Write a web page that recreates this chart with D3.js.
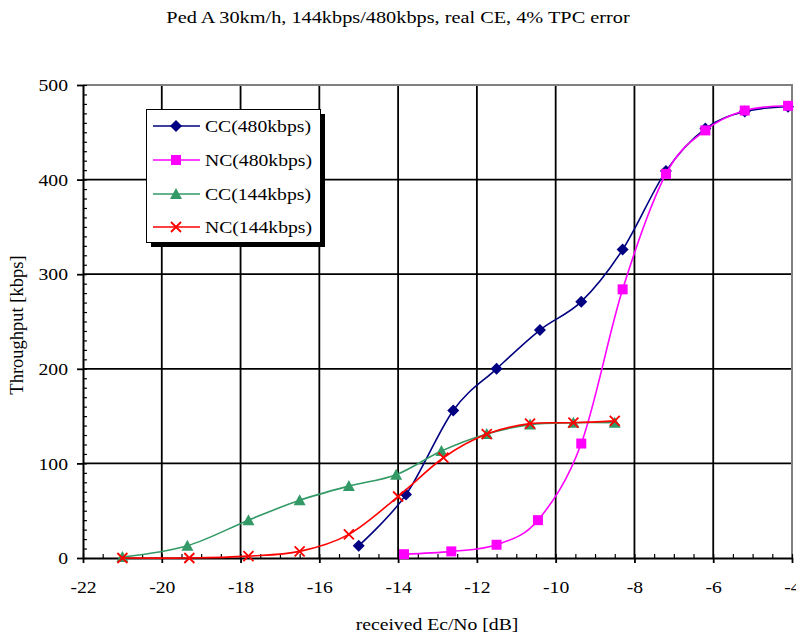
<!DOCTYPE html>
<html>
<head>
<meta charset="utf-8">
<script src="https://cdn.jsdelivr.net/npm/d3@7"></script>
<style>
  body { margin: 0; background: #fff; }
  text { font-family: "Liberation Serif", "DejaVu Serif", serif; fill: #000; }
</style>
</head>
<body>
<div id="vis"></div>
<script>
// chart data
var title = "Ped A 30km/h, 144kbps/480kbps, real CE, 4% TPC error";
var xLabel = "received Ec/No [dB]";
var yLabel = "Throughput [kbps]";

var seriesNames = ["CC(480kbps)", "NC(480kbps)", "CC(144kbps)", "NC(144kbps)"];

var xCC480 = [-15, -13.8, -12.6, -11.5, -10.4, -9.35, -8.3, -7.2, -6.2, -5.2, -4.1];
var yCC480 = [13, 67, 156, 200, 241, 271, 326, 409, 454, 472, 477];

var xNC480 = [-13.85, -12.65, -11.5, -10.45, -9.35, -8.3, -7.2, -6.2, -5.2, -4.1];
var yNC480 = [4, 7, 14, 40, 121, 284, 406, 452, 473, 478];

var xCC144 = [-21, -19.35, -17.8, -16.5, -15.25, -14.05, -12.9, -11.75, -10.65, -9.55, -8.5];
var yCC144 = [1, 13, 40, 61, 76, 88, 113, 131, 141, 143, 143];

var xNC144 = [-21, -19.3, -17.8, -16.5, -15.25, -14.0, -12.85, -11.75, -10.65, -9.55, -8.5];
var yNC144 = [0, 0, 2, 7, 25, 65, 106, 131, 142, 143, 145];

var xTicks = [-22, -20, -18, -16, -14, -12, -10, -8, -6, -4];
var yTicks = [0, 100, 200, 300, 400, 500];

// layout
var W = 796, H = 637;
var SX = 1.23; // the reference text is stretched sideways
var colors = ["#000080", "#ff00ff", "#339966", "#ff0000"];
var shapes = ["diamond", "square", "triangle", "cross"];

var x = d3.scaleLinear().domain([-22, -4]).range([83, 792]);
var y = d3.scaleLinear().domain([0, 500]).range([558, 85]);

var svg = d3.select("#vis").append("svg")
  .attr("width", W)
  .attr("height", H);

function stretchText(sel, px, py) {
  return sel.attr("x", 0).attr("y", 0)
    .attr("transform", "translate(" + px + "," + py + ") scale(" + SX + ",1)");
}

// title
stretchText(svg.append("text"), 398, 23)
  .attr("text-anchor", "middle")
  .style("font-size", "16.5px")
  .text(title);

// grid lines
var grid = svg.append("g");
grid.selectAll(".vg")
  .data(xTicks.slice(1, -1))
  .enter().append("line")
  .attr("x1", function(d) { return x(d); })
  .attr("x2", function(d) { return x(d); })
  .attr("y1", y(0)).attr("y2", y(500))
  .attr("stroke", "#000").attr("stroke-width", 1.8);
grid.selectAll(".hg")
  .data(yTicks.slice(1, -1))
  .enter().append("line")
  .attr("x1", x(-22)).attr("x2", x(-4))
  .attr("y1", function(d) { return y(d); })
  .attr("y2", function(d) { return y(d); })
  .attr("stroke", "#000").attr("stroke-width", 1.8);

// top and right border of the plot area
grid.append("path")
  .attr("d", "M" + x(-22) + "," + y(500) + "H" + x(-4) + "V" + y(0))
  .attr("fill", "none")
  .attr("stroke", "#808080")
  .attr("stroke-width", 2);

// minor ticks (inside)
var minorX = d3.axisBottom(x).tickValues(d3.range(-22, -3.99, 0.5)).tickSize(-4).tickFormat("");
var minorY = d3.axisLeft(y).tickValues(d3.range(0, 501, 10)).tickSize(-4).tickFormat("");
svg.append("g").attr("transform", "translate(0," + y(0) + ")").call(minorX)
  .call(function(g) { g.select(".domain").remove(); })
  .selectAll("line").attr("stroke-width", 1.2);
svg.append("g").attr("transform", "translate(" + x(-22) + ",0)").call(minorY)
  .call(function(g) { g.select(".domain").remove(); })
  .selectAll("line").attr("stroke-width", 1.2);

// major axes
var xAxis = d3.axisBottom(x).tickValues(xTicks).tickSize(5).tickSizeOuter(0)
  .tickFormat(d3.format("d"));
var yAxis = d3.axisLeft(y).tickValues(yTicks).tickSize(6).tickSizeOuter(0);

var gx = svg.append("g").attr("transform", "translate(0," + y(0) + ")").call(xAxis);
gx.select(".domain").attr("stroke-width", 2);
gx.selectAll(".tick line").attr("stroke-width", 1.8);
gx.selectAll(".tick text")
  .attr("font-family", null).attr("font-size", null)
  .style("font-size", "16px")
  .attr("dy", null)
  .attr("y", 35)
  .text(function(d) { return d3.format("d")(d).replace("−", "-"); })
  .attr("transform", "scale(" + SX + ",1)");

var gy = svg.append("g").attr("transform", "translate(" + x(-22) + ",0)").call(yAxis);
gy.select(".domain").attr("stroke-width", 2);
gy.selectAll(".tick line").attr("stroke-width", 1.8);
gy.selectAll(".tick text")
  .attr("font-family", null).attr("font-size", null)
  .style("font-size", "16px")
  .attr("x", -15 / SX)
  .attr("dy", "0.36em")
  .attr("transform", "scale(" + SX + ",1)");

// axis titles
stretchText(svg.append("text"), 437, 630)
  .attr("text-anchor", "middle")
  .style("font-size", "16px")
  .text(xLabel);

svg.append("text")
  .attr("transform", "translate(23,325) rotate(-90)")
  .attr("text-anchor", "middle")
  .style("font-size", "18.5px")
  .text(yLabel);

// series
var series = [
  { name: seriesNames[0], xs: xCC480, ys: yCC480 },
  { name: seriesNames[1], xs: xNC480, ys: yNC480 },
  { name: seriesNames[2], xs: xCC144, ys: yCC144 },
  { name: seriesNames[3], xs: xNC144, ys: yNC144 }
];

var line = d3.line()
  .x(function(d) { return x(d[0]); })
  .y(function(d) { return y(d[1]); })
  .curve(d3.curveCardinal.tension(0));

function drawMarker(g, shape, color, cx, cy) {
  if (shape === "diamond") {
    g.append("path")
      .attr("d", "M" + cx + "," + (cy - 6) + "L" + (cx + 6) + "," + cy + "L" + cx + "," + (cy + 6) + "L" + (cx - 6) + "," + cy + "Z")
      .attr("fill", color);
  } else if (shape === "square") {
    g.append("rect")
      .attr("x", cx - 5).attr("y", cy - 5)
      .attr("width", 10).attr("height", 10)
      .attr("fill", color);
  } else if (shape === "triangle") {
    g.append("path")
      .attr("d", "M" + cx + "," + (cy - 6) + "L" + (cx + 6) + "," + (cy + 5) + "L" + (cx - 6) + "," + (cy + 5) + "Z")
      .attr("fill", color);
  } else {
    g.append("path")
      .attr("d", "M" + (cx - 5) + "," + (cy - 5) + "L" + (cx + 5) + "," + (cy + 5) + "M" + (cx + 5) + "," + (cy - 5) + "L" + (cx - 5) + "," + (cy + 5))
      .attr("stroke", color)
      .attr("stroke-width", 1.8)
      .attr("fill", "none");
  }
}

var plot = svg.append("g");
series.forEach(function(s, i) {
  var pts = s.xs.map(function(v, j) { return [v, s.ys[j]]; });
  var g = plot.append("g");
  g.append("path")
    .datum(pts)
    .attr("d", line)
    .attr("fill", "none")
    .attr("stroke", colors[i])
    .attr("stroke-width", 1.6);
  pts.forEach(function(p) {
    drawMarker(g, shapes[i], colors[i], x(p[0]), y(p[1]));
  });
});

// legend
var lg = svg.append("g");
lg.append("rect")
  .attr("x", 151).attr("y", 114)
  .attr("width", 174).attr("height", 133)
  .attr("fill", "#000");
lg.append("rect")
  .attr("x", 146.5).attr("y", 109.5)
  .attr("width", 174).attr("height", 133)
  .attr("fill", "#fff")
  .attr("stroke", "#000")
  .attr("stroke-width", 1);

var rowY = [126, 160, 194, 227];
seriesNames.forEach(function(name, i) {
  lg.append("line")
    .attr("x1", 153).attr("x2", 200)
    .attr("y1", rowY[i]).attr("y2", rowY[i])
    .attr("stroke", colors[i])
    .attr("stroke-width", 1.6);
  drawMarker(lg, shapes[i], colors[i], 176, rowY[i]);
  stretchText(lg.append("text"), 205, rowY[i] + 6)
    .style("font-size", "16px")
    .text(name);
});
</script>
</body>
</html>
